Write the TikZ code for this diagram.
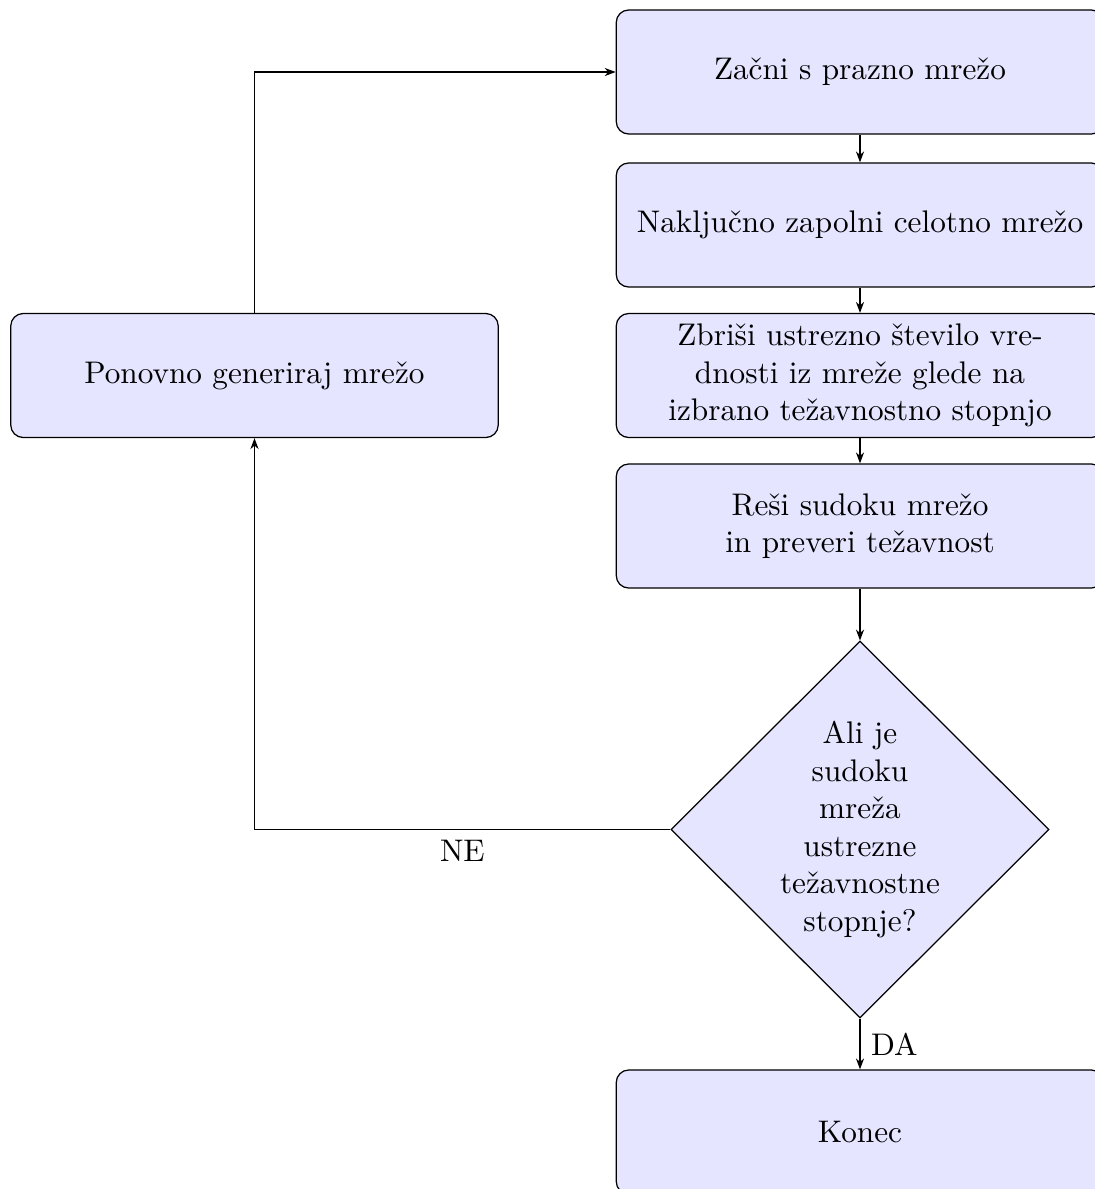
\documentclass[tikz,border=0pt]{standalone}
\usetikzlibrary{shapes.geometric,arrows.meta}
\begin{document}
\begin{tikzpicture}[x=0.32pt,y=-0.32pt,
  box/.style={draw, fill=blue!10, rounded corners=4pt, minimum width=156pt, minimum height=39.7pt, align=center, inner sep=0pt},
  dec/.style={draw, fill=blue!10, diamond, minimum width=121pt, minimum height=120.6pt, inner sep=0pt},
  arr/.style={-{Stealth[length=3.5pt,width=2.6pt]}}]
\path[use as bounding box, clip] (0,0) rectangle (1095,1189);
\node[box] (b1) at (860,72) {Začni s prazno mrežo};
\node[box] (b2) at (860,225) {Naključno zapolni celotno mrežo};
\node[box] (b3) at (860,375.5) {Zbriši ustrezno število vre-\\dnosti iz mreže glede na\\izbrano težavnostno stopnjo};
\node[box] (b4) at (860,526) {Reši sudoku mrežo\\in preveri težavnost};
\node[dec] (d) at (860,829.5) {};
\node[align=center, inner sep=0pt] (dt) at (d.center) {Ali je\\sudoku\\mreža\\ustrezne\\težavnostne\\stopnje?};
\node[box] (b5) at (860,1132) {Konec};
\node[box] (left) at (254.5,375.5) {Ponovno generiraj mrežo};
\draw[arr] (b1.south) -- (b2.north);
\draw[arr] (b2.south) -- (b3.north);
\draw[arr] (b3.south) -- (b4.north);
\draw[arr] (b4.south) -- (d.north);
\draw[arr] (d.south) -- node[right] {DA} (b5.north);
\draw[arr] (d.west) -| node[pos=0.25, below] {NE} (left.south);
\draw[arr] (left.north) |- (b1.west);
\end{tikzpicture}
\end{document}
